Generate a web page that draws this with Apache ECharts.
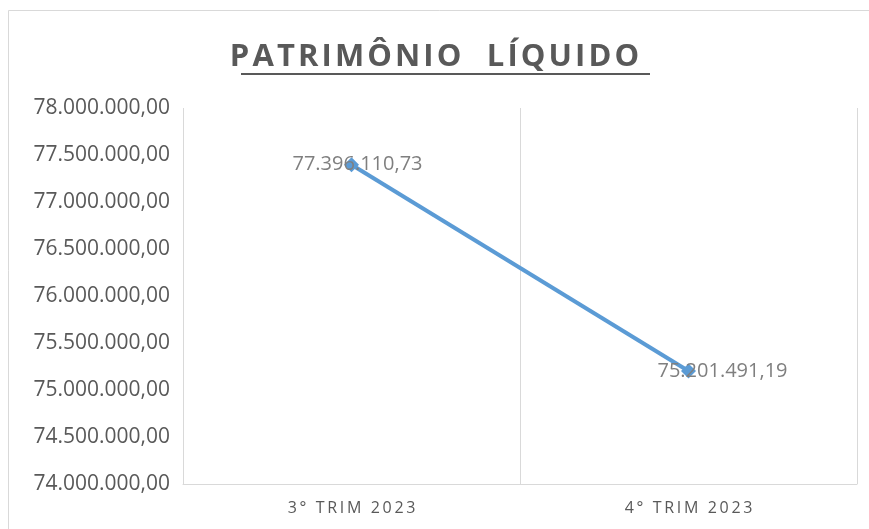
<!DOCTYPE html>
<html>
<head>
<meta charset="utf-8">
<script src="https://cdn.jsdelivr.net/npm/echarts@6/dist/echarts.min.js"></script>
<style>
  html, body { margin: 0; padding: 0; background: #fff; }
  #chart { width: 869px; height: 529px; }
</style>
</head>
<body>
<div id="chart"></div>
<script>
// dados
var periodos = ['3° TRIM 2023', '4° TRIM 2023'];
var patrimonio = [77396110.73, 75201491.19];
var eixoMin = 74000000;
var eixoMax = 78000000;
var eixoPasso = 500000;

function formatoBR(v) {
    var partes = Number(v).toFixed(2).split('.');
    var inteiro = partes[0].replace(/\B(?=(\d{3})+(?!\d))/g, '.');
    return inteiro + ',' + partes[1];
}

// espaçamento entre letras (zrender não tem letterSpacing)
function espacar(txt, sep) {
    return txt.split('').join(sep);
}

var myChart = echarts.init(document.getElementById('chart'));

var option = {
    backgroundColor: '#fff',
    animation: false,
    title: {
        text: espacar('PATRIMÔNIO  LÍQUIDO', '\u200A'),
        left: 'center',
        top: 37,
        textStyle: {
            fontFamily: 'Open Sans',
            fontSize: 31,
            fontWeight: 'bold',
            color: '#595959'
        }
    },
    graphic: [
        {
            type: 'rect',
            shape: { x: 8.5, y: 10.5, width: 870, height: 530 },
            style: { fill: 'none', stroke: '#d9d9d9', lineWidth: 1 },
            silent: true
        },
        {
            type: 'line',
            shape: { x1: 241, y1: 74, x2: 650, y2: 74 },
            style: { stroke: '#595959', lineWidth: 2 },
            silent: true
        }
    ],
    grid: {
        left: 183,
        right: 12,
        top: 108,
        bottom: 45
    },
    xAxis: {
        type: 'category',
        data: periodos,
        boundaryGap: true,
        axisLine: { lineStyle: { color: '#d9d9d9', width: 1 } },
        axisTick: { show: false },
        axisLabel: {
            color: '#595959',
            fontSize: 16,
            fontFamily: 'Open Sans',
            margin: 16,
            formatter: function (v) { return espacar(v, '\u2009'); }
        },
        splitLine: { show: true, lineStyle: { color: '#d9d9d9', width: 1 } }
    },
    yAxis: {
        type: 'value',
        min: eixoMin,
        max: eixoMax,
        interval: eixoPasso,
        axisLine: { show: false },
        axisTick: { show: false },
        splitLine: { show: false },
        axisLabel: {
            color: '#595959',
            fontSize: 21,
            fontFamily: 'Open Sans',
            margin: 13,
            formatter: formatoBR
        }
    },
    series: [
        {
            name: 'Patrimônio Líquido',
            type: 'line',
            data: patrimonio,
            symbol: 'diamond',
            symbolSize: 15,
            lineStyle: { color: '#5b9bd5', width: 4 },
            itemStyle: { color: '#5b9bd5' },
            label: {
                show: true,
                position: 'inside',
                color: '#7f7f7f',
                fontSize: 20,
                fontFamily: 'Open Sans',
                formatter: function (p) { return formatoBR(p.value); }
            },
            labelLayout: function (params) {
                return params.dataIndex === 1 ? { dx: 34 } : { dx: 6 };
            }
        }
    ]
};

myChart.setOption(option);
</script>
</body>
</html>
